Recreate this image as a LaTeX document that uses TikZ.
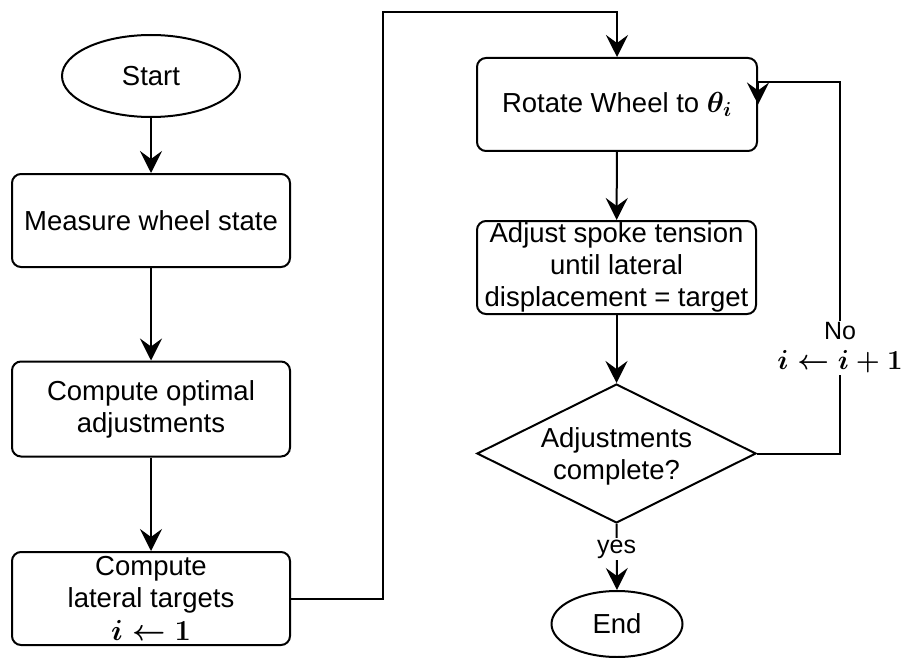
\RequirePackage{fix-cm}
\documentclass[tikz,border=0pt]{standalone}
\usepackage{amsmath}
\usepackage{fontspec}
\setmainfont{Liberation Sans}
\usetikzlibrary{shapes.geometric,arrows.meta}
\newcommand{\mbig}[1]{{\fontsize{29}{33}\selectfont$\boldsymbol{#1}$}}
\newcommand{\mlbl}[1]{{\fontsize{27.5}{33}\selectfont$\boldsymbol{#1}$}}
\tikzset{
  base/.style={draw, line width=2pt, font=\fontsize{27.5}{32}\selectfont, align=center, inner sep=0pt},
  proc/.style={base, rectangle, rounded corners=9pt, minimum width=279pt, minimum height=93pt},
  term/.style={base, ellipse},
  arr/.style={line width=2pt, -{Stealth[length=22pt,width=22pt,inset=8pt]}},
  lbl/.style={fill=white, font=\fontsize{25}{32}\selectfont, align=center, inner sep=2pt},
}
\begin{document}
\begin{tikzpicture}[x=1pt,y=-1pt]
\useasboundingbox (0,0) rectangle (905,658);
% left column
\node[term, minimum width=178pt, minimum height=82pt] (start) at (151,76) {Start};
\node[proc, minimum width=278pt] (meas) at (151,220.5) {Measure wheel state};
\node[proc, minimum width=278pt, minimum height=95pt] (opt) at (151,409) {Compute optimal\\adjustments};
\node[proc, minimum width=278pt] (lat) at (151,598.5) {Compute\\lateral targets\\[1pt]\mbig{i\leftarrow 1}};
% right column
\node[proc, minimum width=280pt] (rot) at (617,104.5) {Rotate Wheel to \mbig{\theta_i}};
\node[proc] (adj) at (616.5,267.5) {Adjust spoke tension\\until lateral\\displacement = target};
\node[base, diamond, aspect=2, minimum width=279pt, minimum height=139pt] (dec) at (616.5,453.5) {};
\node[font=\fontsize{27.5}{32}\selectfont, align=center] (dect) at (616.5,456) {Adjustments\\complete?};
\node[term, minimum width=131pt, minimum height=66pt] (end) at (617,624) {End};
% helper coordinates
\coordinate (c1) at (383,12);
\coordinate (c2) at (840,82);
% connectors
\draw[arr] (start) -- (meas);
\draw[arr] (meas) -- (opt);
\draw[arr] (opt) -- (lat);
\draw[arr] (lat.east) -| (c1) -| (rot.north);
\draw[arr] (rot) -- (adj);
\draw[arr] (adj) -- (dec);
\draw[arr] (dec.south) -- node[lbl, pos=0.38] {yes} (end.north);
\draw[arr] (dec.east) -| (c2) -- (rot.east |- c2) -- (rot.east);
\node[lbl] (nolbl) at (840,348) {No\\[-2pt]\mlbl{i\leftarrow i+1}};
\end{tikzpicture}
\end{document}
